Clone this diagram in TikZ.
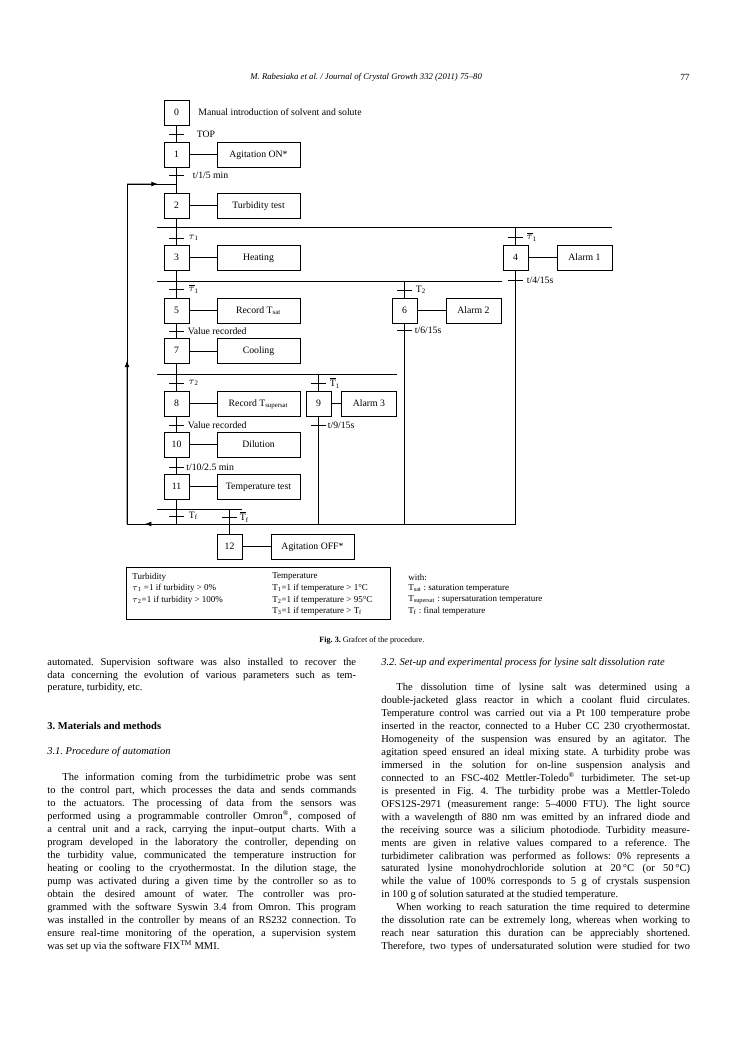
\documentclass[tikz,border=0pt]{standalone}
\usepackage{fontspec}
\setmainfont{Liberation Serif}
\usetikzlibrary{calc,arrows.meta}
\newlength\largcol
\setlength\largcol{247pt}
\newcommand\ligne[2]{\makebox[\largcol][#1]{#2}}
\newcommand\barT[1]{$\overline{\mbox{T}}$\textsubscript{#1}}
\newcommand\bartau[1]{$\overline{\tau}$\textsubscript{#1}}
\newcommand\tauc[1]{$\tau$\textsubscript{#1}}
\begin{document}
\frenchspacing
\begin{tikzpicture}[x=0.8pt,y=-0.8pt,>={Latex[length=5pt,width=3.8pt]},line width=0.55pt,
    etape/.style={draw,minimum width=20pt,minimum height=20pt,inner sep=0pt,text height=5.4pt,text depth=1.2pt,font=\fontsize{7.8}{9}\selectfont},
    action/.style={etape,minimum width=66.4pt},
    alarme/.style={action,minimum width=44pt},
    recep/.style={anchor=west,inner sep=0pt,font=\fontsize{7.8}{9}\selectfont},
    legende/.style={anchor=west,inner sep=0pt,font=\fontsize{7.2}{8}\selectfont},
    corps/.style={anchor=base west,inner sep=0pt,font=\fontsize{8.4}{10}\selectfont}]
    \useasboundingbox (0,0) rectangle (744,1053);
    \fill[white] (0,0) rectangle (744,1053);
    % header
    \node[anchor=west,inner sep=0pt,font=\fontsize{7}{8}\selectfont\itshape] (tete) at (250,77)
        {M. Rabesiaka et al. / Journal of Crystal Growth 332 (2011) 75--80};
    \node[anchor=east,inner sep=0pt,font=\fontsize{7.5}{8}\selectfont] (page) at (690,77) {77};
    % steps
    \foreach \n/\x/\y in {0/176.5/112.5,1/176.5/154.5,2/176.5/205.5,3/176.5/257.5,
        4/515.5/257.5,5/176.5/310.5,6/404.5/310.5,7/176.5/351,8/176.5/403.5,
        9/318.5/403.5,10/176.5/444.5,11/176.5/486.5,12/229.5/546.5}{
            \node[etape] (s\n) at (\x,\y) {\n};
        }
    \node[recep] (m0) at (198,112.5) {Manual introduction of solvent and solute};
    % actions
    \node[action] (a1) at (258.5,154.5) {Agitation ON*};
    \node[action] (a2) at (258.5,205.5) {Turbidity test};
    \node[action] (a3) at (258.5,257.5) {Heating};
    \node[alarme] (a4) at (584.5,257.5) {Alarm 1};
    \node[action] (a5) at (258.5,310.5) {Record T\textsubscript{sat}};
    \node[alarme] (a6) at (473.5,310.5) {Alarm 2};
    \node[action] (a7) at (258.5,351) {Cooling};
    \node[action] (a8) at (258.5,403.5) {Record T\textsubscript{supersat}};
    \node[alarme] (a9) at (369,403.5) {Alarm 3};
    \node[action] (a10) at (258.5,444.5) {Dilution};
    \node[action] (a11) at (258.5,486.5) {Temperature test};
    \node[action] (a12) at (312.5,546.5) {Agitation OFF*};
    \foreach \n in {1,...,12}{
        \draw (s\n) -- (a\n);
    }
    % transitions
    \foreach \n/\x/\y/\dx/\texte in {0/176.5/134/20/TOP,1/176.5/175/16/{t/1/5 min},
        2/176.5/238/12/{\tauc{1}},3/515.5/237/11/{\bartau{1}},4/176.5/289/12/{\bartau{1}},
        5/404.5/290/11/{T\textsubscript{2}},6/515.5/280/11/{t/4/15s},7/176.5/331/11/{Value recorded},
        8/404.5/330/10/{t/6/15s},9/176.5/383/12/{\tauc{2}},10/318.5/383/11/{\barT{1}},
        11/176.5/425/11/{Value recorded},12/318.5/425/9/{t/9/15s},13/176.5/467/9.5/{t/10/2.5 min},
        14/176.5/516/12/{T\textsubscript{f}},15/229.5/517/10/{\barT{f}}}{
            \coordinate (t\n) at (\x,\y);
            \draw ([xshift=-6pt]t\n) -- ([xshift=6pt]t\n);
            \node[recep] (r\n) at ($(t\n)+(\dx,0)$) {\texte};
        }
    % divergences
    \coordinate (dA1) at (157,227.5); \coordinate (dA2) at (612,227.5);
    \coordinate (dB1) at (157,281); \coordinate (dB2) at (502,281);
    \coordinate (dC1) at (157,374); \coordinate (dC2) at (397,374);
    \coordinate (dD1) at (157,509); \coordinate (dD2) at (242,509);
    \draw (dA1) -- (dA2);
    \draw (dB1) -- (dB2);
    \draw (dC1) -- (dC2);
    \draw (dD1) -- (dD2);
    \draw (s0) -- (s1);
    \draw (s1) -- (s2);
    \draw (s2.south) -- (s2.south |- dA1);
    \draw (s3.north |- dA1) -- (s3.north);
    \draw (s4.north |- dA1) -- (s4.north);
    \draw (s3.south) -- (s3.south |- dB1);
    \draw (s5.north |- dB1) -- (s5.north);
    \draw (s6.north |- dB1) -- (s6.north);
    \draw (s5) -- (s7);
    \draw (s7.south) -- (s7.south |- dC1);
    \draw (s8.north |- dC1) -- (s8.north);
    \draw (s9.north |- dC1) -- (s9.north);
    \draw (s8) -- (s10);
    \draw (s10) -- (s11);
    \draw (s12.north |- dD1) -- (s12.north);
    % loop back
    \coordinate (bas) at (127,524);
    \coordinate (haut) at (127,184);
    \coordinate (j) at (176.5,184);
    \draw (s4.south) |- (bas) -- (haut) -- (j);
    \draw (s6.south) -- (s6.south |- bas);
    \draw (s9.south) -- (s9.south |- bas);
    \draw (s11.south) -- (s11.south |- bas);
    \draw[->] (s4.south |- bas) -- ($(bas)+(18,0)$);
    \draw[->] (bas) -- ($(bas)!0.48!(haut)$);
    \draw[->] (haut) -- ($(haut)!0.62!(j)$);
    % legend
    \node[draw,line width=0.8pt,minimum width=211.2pt,minimum height=41.6pt] (leg) at (258,593) {};
    \foreach \x/\y/\texte [count=\i] in {132/577/Turbidity,132/588/{\tauc{1} =1 if turbidity > 0\%},
        132/600/{\tauc{2}=1 if turbidity > 100\%},272/577/Temperature,
        272/588/{T\textsubscript{1}=1 if temperature > 1°C},272/600/{T\textsubscript{2}=1 if temperature > 95°C},
        272/611/{T\textsubscript{3}=1 if temperature > T\textsubscript{f}},408/577/{with:},
        408/588/{T\textsubscript{sat} : saturation temperature},
        408/600/{T\textsubscript{supersat} : supersaturation temperature},
        408/611/{T\textsubscript{f} : final temperature}}{
            \node[legende] (l\i) at (\x,\y) {\texte};
        }
    \node[inner sep=0pt,font=\fontsize{6.5}{8}\selectfont] (fig) at (372,641) {\textbf{Fig. 3.}\ Grafcet of the procedure.};
    % text, left column
    \foreach \y/\ali/\texte [count=\i] in {
        665/s/{automated. Supervision software was also installed to recover the},
        678/s/{data concerning the evolution of various parameters such as tem-},
        690/l/{perature, turbidity, etc.},
        729/l/{\textbf{3. Materials and methods}},
        754/l/{\textit{3.1. Procedure of automation}},
        780/s/{\hspace*{12pt}The information coming from the turbidimetric probe was sent},
        793/s/{to the control part, which processes the data and sends commands},
        806/s/{to the actuators. The processing of data from the sensors was},
        819/s/{performed using a programmable controller Omron\textsuperscript{®}, composed of},
        832/s/{a central unit and a rack, carrying the input--output charts. With a},
        845/s/{program developed in the laboratory the controller, depending on},
        858/s/{the turbidity value, communicated the temperature instruction for},
        871/s/{heating or cooling to the cryothermostat. In the dilution stage, the},
        884/s/{pump was activated during a given time by the controller so as to},
        897/s/{obtain the desired amount of water. The controller was pro-},
        910/s/{grammed with the software Syswin 3.4 from Omron. This program},
        923/s/{was installed in the controller by means of an RS232 connection. To},
        936/s/{ensure real-time monitoring of the operation, a supervision system},
        949/l/{was set up via the software FIX\textsuperscript{TM} MMI.}}{
            \node[corps] (g\i) at (47,\y) {\ligne{\ali}{\texte}};
        }
    % text, right column
    \foreach \y/\ali/\texte [count=\i] in {
        665/l/{\textit{3.2. Set-up and experimental process for lysine salt dissolution rate}},
        690/s/{\hspace*{12pt}The dissolution time of lysine salt was determined using a},
        703/s/{double-jacketed glass reactor in which a coolant fluid circulates.},
        716/s/{Temperature control was carried out via a Pt 100 temperature probe},
        729/s/{inserted in the reactor, connected to a Huber CC 230 cryothermostat.},
        742/s/{Homogeneity of the suspension was ensured by an agitator. The},
        755/s/{agitation speed ensured an ideal mixing state. A turbidity probe was},
        768/s/{immersed in the solution for on-line suspension analysis and},
        781/s/{connected to an FSC-402 Mettler-Toledo\textsuperscript{®} turbidimeter. The set-up},
        794/s/{is presented in Fig. 4. The turbidity probe was a Mettler-Toledo},
        807/s/{OFS12S-2971 (measurement range: 5--4000 FTU). The light source},
        820/s/{with a wavelength of 880 nm was emitted by an infrared diode and},
        833/s/{the receiving source was a silicium photodiode. Turbidity measure-},
        846/s/{ments are given in relative values compared to a reference. The},
        859/s/{turbidimeter calibration was performed as follows: 0\% represents a},
        871/s/{saturated lysine monohydrochloride solution at 20\,°C (or 50\,°C)},
        884/s/{while the value of 100\% corresponds to 5 g of crystals suspension},
        897/l/{in 100 g of solution saturated at the studied temperature.},
        910/s/{\hspace*{12pt}When working to reach saturation the time required to determine},
        923/s/{the dissolution rate can be extremely long, whereas when working to},
        936/s/{reach near saturation this duration can be appreciably shortened.},
        949/s/{Therefore, two types of undersaturated solution were studied for two}}{
            \node[corps] (d\i) at (381,\y) {\ligne{\ali}{\texte}};
        }
\end{tikzpicture}
\end{document}
